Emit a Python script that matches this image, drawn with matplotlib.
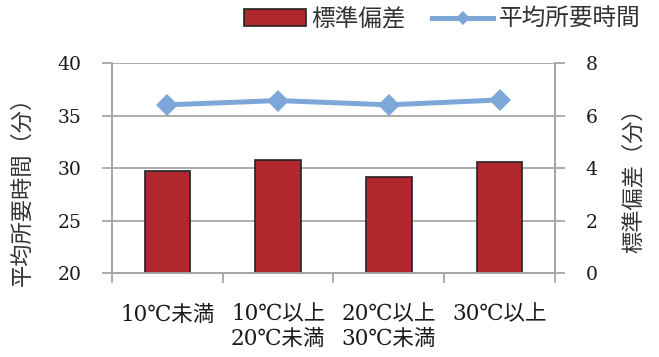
import matplotlib
matplotlib.use("Agg")
import matplotlib.pyplot as plt
from matplotlib.lines import Line2D
from matplotlib.patches import Patch
import numpy as np

categories = ["10℃未満", "10℃以上\n20℃未満", "20℃以上\n30℃未満", "30℃以上"]
std_dev = [3.91, 4.32, 3.68, 4.25]          # 標準偏差 (right axis)
mean_time = [36.03, 36.44, 36.03, 36.50]    # 平均所要時間 (left axis)
left_ticks = [20, 25, 30, 35, 40]
right_ticks = [0, 2, 4, 6, 8]

bar_color = "#B0282E"
line_color = "#7DA7D8"
grid_color = "#A6A6A6"
num_font = ["DejaVu Serif", "Noto Sans CJK JP"]
jp_font = ["Noto Sans CJK JP", "DejaVu Serif"]

plt.rcParams['font.family'] = jp_font

fig = plt.figure(figsize=(6.59, 3.57), dpi=100)
ax1 = fig.add_axes([0.170, 0.235, 0.672, 0.588])
ax2 = ax1.twinx()

x = np.arange(len(categories))

# bars on right axis
ax2.bar(x, std_dev, width=0.41, color=bar_color, edgecolor="#222222", linewidth=1.2, zorder=3)
ax2.set_ylim(0, 8)
ax2.set_yticks(right_ticks)
ax2.yaxis.grid(True, color=grid_color, linewidth=1.3, zorder=0)
ax2.set_axisbelow(True)

# line on left axis, drawn above bars
ax1.set_zorder(ax2.get_zorder() + 1)
ax1.patch.set_visible(False)
ax1.plot(x, mean_time, color=line_color, linewidth=3.6, marker="D", markersize=11,
         markeredgewidth=0, solid_joinstyle="miter")
ax1.set_ylim(20, 40)
ax1.set_yticks(left_ticks)
ax1.set_xlim(-0.5, len(categories) - 0.5)

# x ticks: labels at centers, tick marks at boundaries
ax1.set_xticks(x)
ax1.set_xticklabels(categories, family=num_font, fontsize=15.5, linespacing=1.15)
ax1.set_xticks(np.arange(-0.5, len(categories), 1.0), minor=True)
ax1.tick_params(axis="x", which="major", length=0, pad=22, colors="#1a1a1a")
ax1.tick_params(axis="x", which="minor", length=7, width=1.3, color=grid_color, direction="out")

for ax in (ax1, ax2):
    for s in ax.spines.values():
        s.set_color(grid_color)
        s.set_linewidth(1.3)
    ax.spines["top"].set_visible(False)

ax1.tick_params(axis="y", length=7, width=1.3, color=grid_color, direction="out", pad=15,
                labelcolor="#1a1a1a")
ax2.tick_params(axis="y", length=7, width=1.3, color=grid_color, direction="out", pad=15,
                labelcolor="#1a1a1a")
for lbl in ax1.get_yticklabels() + ax2.get_yticklabels():
    lbl.set_family(num_font)
    lbl.set_fontsize(13.5)
ax2.tick_params(axis="x", length=0)

ax1.set_ylabel("平均所要時間（分）", fontsize=16, family=jp_font, color="#333333")
ax2.set_ylabel("標準偏差（分）", fontsize=16, family=jp_font, color="#333333", rotation=90)
ax1.yaxis.set_label_coords(-0.176, 0.414)
ax2.yaxis.set_label_coords(1.150, 0.467)

handles = [Patch(facecolor=bar_color, edgecolor="#222222", linewidth=1.2),
           Line2D([0], [0], color=line_color, linewidth=3.6, marker="D", markersize=7,
                  markeredgewidth=0)]
fig.legend(handles, ["標準偏差", "平均所要時間"], loc="upper right",
           bbox_to_anchor=(641 / 659, 1 - 8 / 357), ncol=2, frameon=False,
           prop={"family": jp_font, "size": 17}, handlelength=2.6, handletextpad=0.25,
           columnspacing=1.1, labelcolor="#333333", borderpad=0, borderaxespad=0)

fig.savefig("out.png", dpi=100)
